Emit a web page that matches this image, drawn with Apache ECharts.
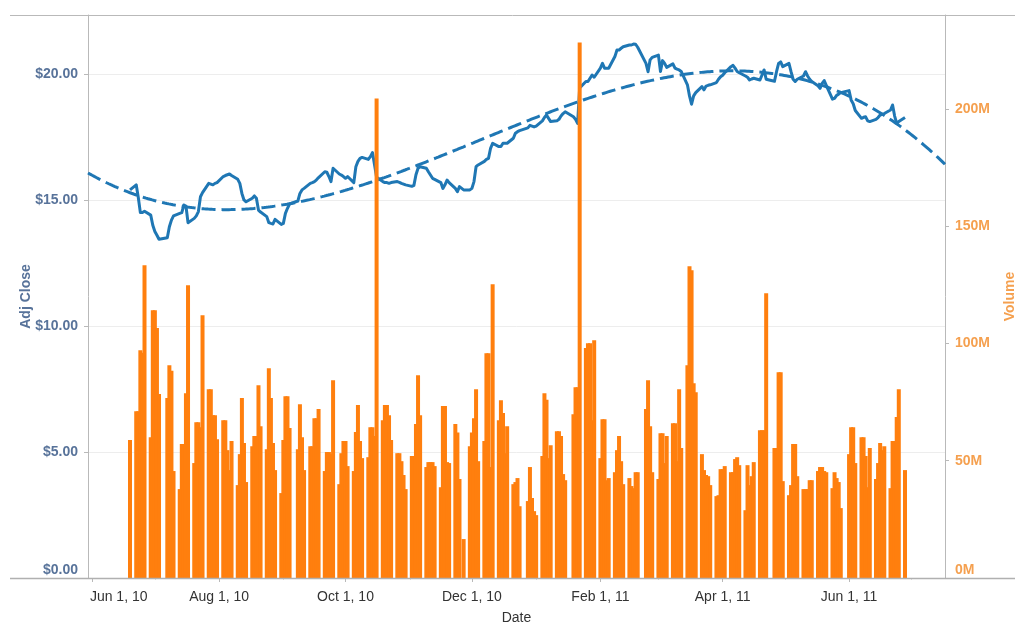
<!DOCTYPE html>
<html>
<head>
<meta charset="utf-8">
<script src="https://cdn.jsdelivr.net/npm/echarts@6/dist/echarts.min.js"></script>
<style>
html,body{margin:0;padding:0;background:#fff;}
#chart{width:1015px;height:623px;}
</style>
</head>
<body>
<div id="chart"></div>
<script>
// ---------------- DATA ----------------
const dates = [
'2010-06-18',
'2010-06-21','2010-06-22','2010-06-23','2010-06-24','2010-06-25',
'2010-06-28','2010-06-29','2010-06-30','2010-07-01','2010-07-02',
'2010-07-06','2010-07-07','2010-07-08','2010-07-09',
'2010-07-12','2010-07-13','2010-07-14','2010-07-15','2010-07-16',
'2010-07-19','2010-07-20','2010-07-21','2010-07-22','2010-07-23',
'2010-07-26','2010-07-27','2010-07-28','2010-07-29','2010-07-30',
'2010-08-02','2010-08-03','2010-08-04','2010-08-05','2010-08-06',
'2010-08-09','2010-08-10','2010-08-11','2010-08-12','2010-08-13',
'2010-08-16','2010-08-17','2010-08-18','2010-08-19','2010-08-20',
'2010-08-23','2010-08-24','2010-08-25','2010-08-26','2010-08-27',
'2010-08-30','2010-08-31','2010-09-01','2010-09-02','2010-09-03',
'2010-09-07','2010-09-08','2010-09-09','2010-09-10',
'2010-09-13','2010-09-14','2010-09-15','2010-09-16','2010-09-17',
'2010-09-20','2010-09-21','2010-09-22','2010-09-23','2010-09-24',
'2010-09-27','2010-09-28','2010-09-29','2010-09-30','2010-10-01',
'2010-10-04','2010-10-05','2010-10-06','2010-10-07','2010-10-08',
'2010-10-11','2010-10-12','2010-10-13','2010-10-14','2010-10-15',
'2010-10-18','2010-10-19','2010-10-20','2010-10-21','2010-10-22',
'2010-10-25','2010-10-26','2010-10-27','2010-10-28','2010-10-29',
'2010-11-01','2010-11-02','2010-11-03','2010-11-04','2010-11-05',
'2010-11-08','2010-11-09','2010-11-10','2010-11-11','2010-11-12',
'2010-11-15','2010-11-16','2010-11-17','2010-11-18','2010-11-19',
'2010-11-22','2010-11-23','2010-11-24','2010-11-26',
'2010-11-29','2010-11-30','2010-12-01','2010-12-02','2010-12-03',
'2010-12-06','2010-12-07','2010-12-08','2010-12-09','2010-12-10',
'2010-12-13','2010-12-14','2010-12-15','2010-12-16','2010-12-17',
'2010-12-20','2010-12-21','2010-12-22','2010-12-23',
'2010-12-27','2010-12-28','2010-12-29','2010-12-30','2010-12-31',
'2011-01-03','2011-01-04','2011-01-05','2011-01-06','2011-01-07',
'2011-01-10','2011-01-11','2011-01-12','2011-01-13','2011-01-14',
'2011-01-18','2011-01-19','2011-01-20','2011-01-21',
'2011-01-24','2011-01-25','2011-01-26','2011-01-27','2011-01-28',
'2011-01-31','2011-02-01','2011-02-02','2011-02-03','2011-02-04',
'2011-02-07','2011-02-08','2011-02-09','2011-02-10','2011-02-11',
'2011-02-14','2011-02-15','2011-02-16','2011-02-17','2011-02-18',
'2011-02-22','2011-02-23','2011-02-24','2011-02-25',
'2011-02-28','2011-03-01','2011-03-02','2011-03-03','2011-03-04',
'2011-03-07','2011-03-08','2011-03-09','2011-03-10','2011-03-11',
'2011-03-14','2011-03-15','2011-03-16','2011-03-17','2011-03-18',
'2011-03-21','2011-03-22','2011-03-23','2011-03-24','2011-03-25',
'2011-03-28','2011-03-29','2011-03-30','2011-03-31','2011-04-01',
'2011-04-04','2011-04-05','2011-04-06','2011-04-07','2011-04-08',
'2011-04-11','2011-04-12','2011-04-13','2011-04-14','2011-04-15',
'2011-04-18','2011-04-19','2011-04-20','2011-04-21',
'2011-04-25','2011-04-26','2011-04-27','2011-04-28','2011-04-29',
'2011-05-02','2011-05-03','2011-05-04','2011-05-05','2011-05-06',
'2011-05-09','2011-05-10','2011-05-11','2011-05-12','2011-05-13',
'2011-05-16','2011-05-17','2011-05-18','2011-05-19','2011-05-20',
'2011-05-23','2011-05-24','2011-05-25','2011-05-26','2011-05-27',
'2011-05-31','2011-06-01','2011-06-02','2011-06-03',
'2011-06-06','2011-06-07','2011-06-08','2011-06-09','2011-06-10',
'2011-06-13','2011-06-14','2011-06-15','2011-06-16','2011-06-17',
'2011-06-20','2011-06-21','2011-06-22','2011-06-23','2011-06-24',
'2011-06-27'
];

// Volume in millions of shares
const volumeM = [
58.8,
71.1,71.1,97.1,96.0,133.3,
60.0,114.1,114.1,106.6,78.4,
76.7,90.7,88.3,45.6,
37.9,57.1,57.1,78.8,124.8,
49.0,66.4,66.4,64.3,112.0,
80.5,80.5,69.4,69.4,59.2,
67.3,67.3,54.5,46.0,58.4,
39.6,52.8,76.7,57.5,40.9,
56.2,60.5,60.5,82.2,64.7,
54.9,89.4,76.7,57.5,46.0,
36.2,58.8,77.5,77.5,63.9,
54.9,74.1,60.0,46.0,
56.2,56.2,68.1,68.1,72.0,
45.6,53.7,53.7,52.8,84.3,
40.0,53.2,58.4,58.4,47.7,
45.6,62.2,73.7,58.4,51.1,
51.5,64.3,64.3,60.5,204.4,
67.3,73.7,73.7,69.4,58.8,
53.2,53.2,49.8,43.9,37.9,
52.0,52.0,65.6,86.4,69.4,
47.3,49.4,49.4,49.4,47.7,
38.7,73.3,73.3,49.4,49.0,
65.6,62.0,42.2,16.6,
56.2,62.0,68.1,80.5,49.8,
58.4,95.8,95.8,47.3,125.2,
67.3,75.8,70.3,53.2,64.7,
40.0,40.9,42.6,30.6,
32.8,47.3,34.1,28.5,26.8,
52.0,78.8,76.0,51.1,56.6,
62.6,62.6,60.5,44.3,41.7,
69.8,81.3,81.3,228.3,
98.0,100.1,100.1,67.3,101.4,
51.1,67.7,67.7,41.7,42.6,
45.1,54.5,60.5,49.8,40.0,
42.6,39.2,38.3,45.1,45.1,
72.0,84.3,64.7,45.1,
42.2,61.7,61.7,49.0,60.5,
66.0,66.0,49.8,80.5,55.4,
90.7,132.9,131.2,83.0,79.2,
52.8,46.0,43.9,43.4,39.6,
34.9,35.3,46.4,46.4,47.7,
45.1,45.1,50.7,51.5,48.1,
28.9,48.1,39.6,43.4,49.4,
63.0,63.0,63.0,121.4,
55.4,55.4,87.7,87.7,41.3,
35.3,39.6,57.1,57.1,43.4,
37.9,37.9,37.9,41.7,41.7,
45.6,47.3,47.3,45.6,45.1,
38.3,45.1,42.6,40.9,29.8,
52.8,64.3,64.3,49.0,
60.0,60.0,52.0,38.7,55.4,
42.2,49.0,57.5,54.5,56.2,
38.3,58.4,58.4,68.6,80.5,
46.0
];

// Adjusted close in dollars
const adjClose = [
15.40,
15.60,15.10,14.50,14.50,14.55,
14.40,14.00,13.75,13.60,13.44,
13.50,13.94,14.20,14.37,
14.47,14.50,14.80,14.76,14.10,
14.27,14.37,14.54,15.13,15.29,
15.66,15.63,15.60,15.66,15.69,
15.93,15.97,16.00,16.03,15.97,
15.82,15.66,15.26,15.00,14.93,
15.07,15.16,15.07,14.60,14.52,
14.34,14.10,14.07,14.05,14.23,
14.03,14.07,14.47,14.67,14.84,
14.96,15.26,15.40,15.46,
15.66,15.69,15.73,15.80,15.89,
16.12,16.10,15.93,15.73,16.26,
16.03,15.99,15.93,15.86,15.93,
15.69,16.32,16.53,16.65,16.69,
16.61,16.72,16.88,16.40,15.90,
15.73,15.69,15.69,15.66,15.69,
15.73,15.70,15.66,15.63,15.60,
15.54,15.58,16.00,16.26,16.32,
16.26,16.12,15.99,15.86,15.82,
15.69,15.46,15.60,15.79,15.69,
15.46,15.33,15.53,15.40,
15.40,15.46,15.73,16.32,16.39,
16.53,16.61,16.65,17.05,17.25,
17.12,17.12,17.25,17.25,17.25,
17.45,17.65,17.71,17.75,
17.86,17.96,17.93,17.90,17.93,
18.14,18.27,18.37,18.24,18.11,
18.14,18.20,18.33,18.43,18.50,
18.30,18.20,18.04,19.45,
19.70,19.70,19.83,19.96,19.87,
20.23,20.42,20.23,20.23,20.23,
20.69,20.95,20.95,21.02,21.08,
21.15,21.15,21.19,21.18,21.06,
20.42,20.09,20.56,20.66,
20.75,20.10,20.53,20.42,20.26,
20.40,20.23,20.19,20.16,20.10,
19.57,19.13,18.80,19.13,19.26,
19.50,19.37,19.52,19.55,19.57,
19.66,19.79,19.89,19.95,20.05,
20.29,20.34,20.23,20.10,20.05,
19.92,19.87,19.76,19.80,19.83,
19.76,19.96,20.16,19.79,
19.71,20.09,20.42,20.48,20.29,
20.42,20.09,19.79,19.70,19.79,
19.92,20.09,19.92,19.79,19.70,
19.53,19.43,19.63,19.74,19.55,
19.00,19.03,19.15,19.20,19.26,
19.34,18.97,18.82,18.55,
18.24,18.28,18.30,18.14,18.11,
18.20,18.27,18.37,18.40,18.43,
18.57,18.77,18.33,18.04,18.11,
18.27
];

const labelMonths = ['2010-06-01','2010-08-01','2010-10-01','2010-12-01','2011-02-01','2011-04-01','2011-06-01'];
const minorMonths = ['2010-07-01','2010-09-01','2010-11-01','2011-01-01','2011-03-01','2011-05-01','2011-07-01'];
const priceTicks = [0, 5, 10, 15, 20];
const volumeTicksM = [0, 50, 100, 150, 200];
const monthNames = ['Jan','Feb','Mar','Apr','May','Jun','Jul','Aug','Sep','Oct','Nov','Dec'];

// ---------------- BUILD ----------------
const DAY = 86400000;
function ts(s){ const p = s.split('-').map(Number); return Date.UTC(p[0], p[1]-1, p[2]); }
const SHIFT = DAY; // marks sit one day right of the date tick, as in the reference
const X_MIN = ts('2010-06-01') - 2.27 * DAY;
const X_MAX = ts('2011-06-01') + 46.3 * DAY;

const volData = dates.map((d, i) => [ts(d) + SHIFT, volumeM[i] * 1e6]);
const priceData = dates.map((d, i) => [ts(d) + SHIFT, adjClose[i]]);

// cubic least-squares trend of Adj Close over time (polynomial trend line)
function polyFit(xs, ys, deg){
  const n = deg + 1;
  const A = Array.from({length:n}, () => new Array(n + 1).fill(0));
  for (let k = 0; k < xs.length; k++){
    const pw = [];
    for (let j = 0; j < 2 * n; j++) pw.push(Math.pow(xs[k], j));
    for (let r = 0; r < n; r++){
      for (let c = 0; c < n; c++) A[r][c] += pw[r + c];
      A[r][n] += ys[k] * pw[r];
    }
  }
  for (let i = 0; i < n; i++){
    let mx = i;
    for (let r = i + 1; r < n; r++) if (Math.abs(A[r][i]) > Math.abs(A[mx][i])) mx = r;
    const tmp = A[i]; A[i] = A[mx]; A[mx] = tmp;
    for (let r = 0; r < n; r++){
      if (r === i) continue;
      const f = A[r][i] / A[i][i];
      for (let c = i; c <= n; c++) A[r][c] -= f * A[i][c];
    }
  }
  return A.map((row, i) => row[n] / row[i]);
}
const T0 = X_MIN, TS = X_MAX - X_MIN;
const coef = polyFit(priceData.map(p => (p[0] - T0) / TS), priceData.map(p => p[1]), 3);
function trendAt(t){
  const u = (t - T0) / TS;
  let v = 0;
  for (let j = coef.length - 1; j >= 0; j--) v = v * u + coef[j];
  return v;
}
const trendData = [];
for (let t = X_MIN; t < X_MAX; t += DAY) trendData.push([t, trendAt(t)]);
trendData.push([X_MAX, trendAt(X_MAX)]);

const LEFT_COLOR = '#58739a';
const RIGHT_COLOR = '#f5a04f';
const AXIS_GRAY = '#b9b9b9';
const FONT = 'Liberation Sans, Arial, sans-serif';

function fmtDate(v){
  const d = new Date(v);
  return monthNames[d.getUTCMonth()] + ' 1, ' + String(d.getUTCFullYear()).slice(2);
}

const chart = echarts.init(document.getElementById('chart'), null, {renderer: 'canvas'});
chart.setOption({
  animation: false,
  backgroundColor: '#ffffff',
  textStyle: {fontFamily: FONT},
  grid: {left: 88, right: 70, top: 15, bottom: 45, containLabel: false, outerBoundsMode: 'none'},
  xAxis: [{
    type: 'value',
    min: X_MIN, max: X_MAX,
    name: 'Date', nameLocation: 'middle', nameGap: 33, nameMoveOverlap: false,
    nameTextStyle: {color: '#333', fontSize: 14, fontFamily: FONT},
    axisLine: {show: false},
    axisTick: {show: true, length: 4, lineStyle: {color: AXIS_GRAY}, customValues: labelMonths.map(ts)},
    axisLabel: {
      show: true, color: '#333', fontSize: 14, fontFamily: FONT, margin: 12,
      customValues: labelMonths.map(ts),
      formatter: function(v){
        const txt = fmtDate(v);
        return v === ts(labelMonths[0]) ? '{first|' + txt + '}' : txt;
      },
      rich: {first: {padding: [0, 0, 0, 52], fontSize: 14, color: '#333', fontFamily: FONT}}
    },
    splitLine: {show: false}
  }, {
    type: 'value',
    min: X_MIN, max: X_MAX,
    position: 'bottom',
    axisLine: {show: false},
    axisTick: {show: true, length: 1.5, lineStyle: {color: AXIS_GRAY}, customValues: minorMonths.map(ts)},
    axisLabel: {show: false},
    splitLine: {show: false}
  }],
  yAxis: [{
    type: 'value',
    min: 0, max: 22.34, interval: 5,
    position: 'left',
    name: 'Adj Close', nameLocation: 'middle', nameGap: 55, nameMoveOverlap: false,
    nameTextStyle: {color: LEFT_COLOR, fontSize: 14, fontWeight: 'bold', fontFamily: FONT},
    axisLine: {show: true, lineStyle: {color: AXIS_GRAY, width: 1}},
    axisTick: {show: true, length: 4, lineStyle: {color: AXIS_GRAY}, customValues: priceTicks},
    axisLabel: {
      color: LEFT_COLOR, fontSize: 14, fontWeight: 'bold', fontFamily: FONT, margin: 10,
      customValues: priceTicks,
      formatter: function(v){
        const t = '$' + v.toFixed(2);
        return v === 0 ? '{z|' + t + '}' : t;
      },
      rich: {z: {padding: [0, 0, 16, 0], color: LEFT_COLOR, fontSize: 14, fontWeight: 'bold', fontFamily: FONT}}
    },
    splitLine: {show: true, lineStyle: {color: '#ededed', width: 1}}
  }, {
    type: 'value',
    min: 0, max: 240e6, interval: 50e6,
    position: 'right',
    name: 'Volume', nameLocation: 'middle', nameGap: 58, nameMoveOverlap: false,
    nameTextStyle: {color: RIGHT_COLOR, fontSize: 14, fontWeight: 'bold', fontFamily: FONT},
    axisLine: {show: true, lineStyle: {color: AXIS_GRAY, width: 1}},
    axisTick: {show: true, length: 4, lineStyle: {color: AXIS_GRAY}, customValues: volumeTicksM.map(v => v * 1e6)},
    axisLabel: {
      color: RIGHT_COLOR, fontSize: 14, fontWeight: 'bold', fontFamily: FONT, margin: 10,
      customValues: volumeTicksM.map(v => v * 1e6),
      formatter: function(v){
        const t = Math.round(v / 1e6) + 'M';
        return v === 0 ? '{z|' + t + '}' : t;
      },
      rich: {z: {padding: [0, 0, 16, 0], color: RIGHT_COLOR, fontSize: 14, fontWeight: 'bold', fontFamily: FONT}}
    },
    splitLine: {show: false}
  }],
  series: [{
    name: 'Adj Close',
    type: 'line',
    xAxisIndex: 0, yAxisIndex: 0,
    data: priceData,
    showSymbol: false,
    lineStyle: {color: '#1f77b4', width: 3, join: 'round'},
    itemStyle: {color: '#1f77b4'},
    z: 2
  }, {
    name: 'Trend',
    type: 'line',
    xAxisIndex: 0, yAxisIndex: 0,
    data: trendData,
    showSymbol: false,
    lineStyle: {color: '#1f77b4', width: 3, type: [14, 6]},
    z: 2
  }, {
    name: 'Volume',
    type: 'bar',
    xAxisIndex: 0, yAxisIndex: 1,
    data: volData,
    barWidth: 4,
    itemStyle: {color: '#ff7f0e'},
    z: 3
  }],
  graphic: [{
    type: 'line', silent: true, z: 10,
    shape: {x1: 10, y1: 15.5, x2: 1015, y2: 15.5},
    style: {stroke: AXIS_GRAY, lineWidth: 1}
  }, {
    type: 'line', silent: true, z: 10,
    shape: {x1: 10, y1: 578.5, x2: 1015, y2: 578.5},
    style: {stroke: '#b0b0b0', lineWidth: 1.5}
  }]
});
</script>
</body>
</html>
